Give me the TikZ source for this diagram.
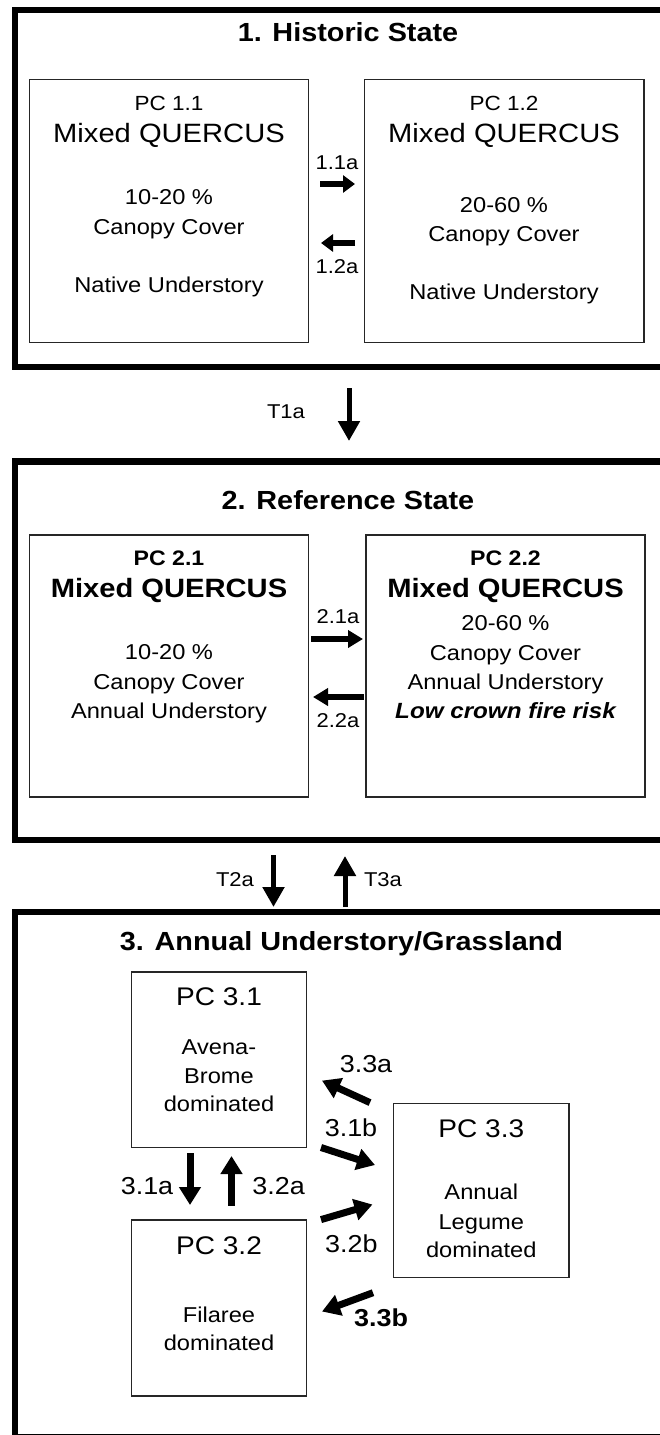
\documentclass[tikz,border=0pt]{standalone}
\usepackage{fontspec}
\setmainfont{Liberation Sans}[FakeStretch=1.1]
\usetikzlibrary{arrows.meta}
\tikzset{
  stateframe/.style={draw, line width=6.5pt, inner sep=0pt, outer sep=0pt},
  pcbox/.style={draw=black!85, line width=1.3pt, inner sep=0pt},
  tl/.style={anchor=mid, yshift=-3.5pt, inner sep=0pt, font=\fontsize{21.5}{24}\selectfont},
  pcl/.style={anchor=mid, yshift=-3.3pt, inner sep=0pt, font=\fontsize{20.5}{24}\selectfont},
  pcbl/.style={anchor=mid, yshift=-3.3pt, inner sep=0pt, font=\bfseries\fontsize{21}{24}\selectfont},
  pc3/.style={anchor=mid, yshift=-4pt, inner sep=0pt, font=\fontsize{25.5}{28}\selectfont},
  ttl/.style={anchor=mid, yshift=-4pt, inner sep=0pt, font=\bfseries\fontsize{26.2}{30}\selectfont},
  mq/.style={anchor=mid, yshift=-4pt, inner sep=0pt, font=\fontsize{26.5}{30}\selectfont},
  mqb/.style={anchor=mid, yshift=-4pt, inner sep=0pt, font=\bfseries\fontsize{26.5}{30}\selectfont},
  lab/.style={anchor=mid, yshift=-3.3pt, inner sep=0pt, font=\fontsize{20}{24}\selectfont},
  labc/.style={anchor=mid, yshift=-3.8pt, inner sep=0pt, font=\fontsize{24.5}{28}\selectfont},
  arrA/.style={line width=6pt, -{Triangle[length=12pt,width=17pt]}},
  arrB/.style={line width=6.5pt, -{Triangle[length=15pt,width=17pt]}},
  arrT/.style={line width=5pt, -{Triangle[length=20pt,width=21pt]}},
  arrC/.style={line width=7pt, -{Triangle[length=18pt,width=21pt]}},
}
\begin{document}
\begin{tikzpicture}[x=1pt,y=-1pt]
\useasboundingbox (0,0) rectangle (660,1435);
\fill[white] (0,0) rectangle (660,1435);

% ---------- State 1 ----------
\node[stateframe, minimum width=655pt, minimum height=357pt] (s1) at (342.5,188.5) {};
\node[ttl] (t1) at (348,35) {1. Historic State};
\node[pcbox, minimum width=279pt, minimum height=263pt] (b11) at (169,210.8) {};
\node[pcbox, minimum width=279.5pt, minimum height=263pt] (b12) at (504.3,210.8) {};
\node[pcl] (b11a) at (169,105) {PC 1.1};
\node[mq]  (b11b) at (169,136) {Mixed QUERCUS};
\node[tl]  (b11c) at (169,198) {10-20 \%};
\node[tl]  (b11d) at (169,228) {Canopy Cover};
\node[tl]  (b11e) at (169,286) {Native Understory};
\node[pcl] (b12a) at (504,105) {PC 1.2};
\node[mq]  (b12b) at (504,136) {Mixed QUERCUS};
\node[tl]  (b12c) at (504,206) {20-60 \%};
\node[tl]  (b12d) at (504,235) {Canopy Cover};
\node[tl]  (b12e) at (504,293) {Native Understory};
\coordinate (a11s) at (320,184); \coordinate (a11e) at (355,184);
\coordinate (a12s) at (355,243); \coordinate (a12e) at (321,243);
\draw[arrA] (a11s) -- (a11e);
\draw[arrA] (a12s) -- (a12e);
\node[lab] (l11) at (337,164) {1.1a};
\node[lab] (l12) at (337,268) {1.2a};

% ---------- T1a ----------
\coordinate (t1s) at (349,388); \coordinate (t1e) at (349,441);
\draw[arrT] (t1s) -- (t1e);
\node[lab] (lt1) at (286,413) {T1a};

% ---------- State 2 ----------
\node[stateframe, minimum width=655pt, minimum height=378.5pt] (s2) at (342.5,650.75) {};
\node[ttl] (t2) at (348,503) {2. Reference State};
\node[pcbox, minimum width=279pt, minimum height=262pt] (b21) at (169,666) {};
\node[pcbox, minimum width=279pt, minimum height=262pt] (b22) at (505.5,666) {};
\node[pcbl] (b21a) at (169,560) {PC 2.1};
\node[mqb]  (b21b) at (169,591) {Mixed QUERCUS};
\node[tl]   (b21c) at (169,653) {10-20 \%};
\node[tl]   (b21d) at (169,683) {Canopy Cover};
\node[tl]   (b21e) at (169,712) {Annual Understory};
\node[pcbl] (b22a) at (505.5,560) {PC 2.2};
\node[mqb]  (b22b) at (505.5,591) {Mixed QUERCUS};
\node[tl]   (b22c) at (505.5,624) {20-60 \%};
\node[tl]   (b22d) at (505.5,654) {Canopy Cover};
\node[tl]   (b22e) at (505.5,683) {Annual Understory};
\node[tl, font=\bfseries\itshape\fontsize{22}{24}\selectfont] (b22f) at (505.5,712) {Low crown fire risk};
\coordinate (a21s) at (311,639); \coordinate (a21e) at (363,639);
\coordinate (a22s) at (364,697); \coordinate (a22e) at (313,697);
\draw[arrB] (a21s) -- (a21e);
\draw[arrB] (a22s) -- (a22e);
\node[lab] (l21) at (338,618) {2.1a};
\node[lab] (l22) at (338,722) {2.2a};

% ---------- T2a / T3a ----------
\coordinate (t2s) at (273.5,855); \coordinate (t2e) at (273.5,907);
\coordinate (t3s) at (345,907); \coordinate (t3e) at (345,856);
\draw[arrT] (t2s) -- (t2e);
\draw[arrT] (t3s) -- (t3e);
\node[lab] (lt2) at (235,881) {T2a};
\node[lab] (lt3) at (383,881) {T3a};

% ---------- State 3 ----------
\node[stateframe, minimum width=655pt, minimum height=525pt] (s3) at (342.5,1174.5) {};
\node[ttl] (t3) at (341.5,944) {3. Annual Understory/Grassland};
\node[pcbox, minimum width=174.7pt, minimum height=175.5pt] (b31) at (219,1059.8) {};
\node[pcbox, minimum width=174.7pt, minimum height=176pt] (b32) at (219,1308) {};
\node[pcbox, minimum width=175.5pt, minimum height=174pt] (b33) at (481.3,1190.5) {};
\node[pc3] (b31a) at (219,999) {PC 3.1};
\node[tl]  (b31b) at (219,1048) {Avena-};
\node[tl]  (b31c) at (219,1077) {Brome};
\node[tl]  (b31d) at (219,1105.5) {dominated};
\node[pc3] (b32a) at (219,1248) {PC 3.2};
\node[tl]  (b32b) at (219,1316) {Filaree};
\node[tl]  (b32c) at (219,1344.5) {dominated};
\node[pc3] (b33a) at (481.3,1131) {PC 3.3};
\node[tl]  (b33b) at (481.3,1193) {Annual};
\node[tl]  (b33c) at (481.3,1223) {Legume};
\node[tl]  (b33d) at (481.3,1251.5) {dominated};
\coordinate (a31as) at (190,1153);   \coordinate (a31ae) at (190,1205);
\coordinate (a32as) at (231.5,1205.5); \coordinate (a32ae) at (231.5,1156);
\coordinate (a33as) at (370,1102.6); \coordinate (a33ae) at (322,1080.6);
\coordinate (a31bs) at (321,1147.5); \coordinate (a31be) at (375,1165);
\coordinate (a32bs) at (321,1219.6); \coordinate (a32be) at (372.5,1204.5);
\coordinate (a33bs) at (373,1292.7); \coordinate (a33be) at (322,1311.5);
\draw[arrC] (a31as) -- (a31ae);
\draw[arrC] (a32as) -- (a32ae);
\draw[arrC] (a33as) -- (a33ae);
\draw[arrC] (a31bs) -- (a31be);
\draw[arrC] (a32bs) -- (a32be);
\draw[arrC] (a33bs) -- (a33be);
\node[labc] (l31a) at (147,1188) {3.1a};
\node[labc] (l32a) at (278.6,1188) {3.2a};
\node[labc] (l33a) at (366,1066) {3.3a};
\node[labc] (l31b) at (351,1130) {3.1b};
\node[labc] (l32b) at (351.4,1246) {3.2b};
\node[labc, font=\bfseries\fontsize{24.5}{28}\selectfont] (l33b) at (381,1320) {3.3b};
\end{tikzpicture}
\end{document}
